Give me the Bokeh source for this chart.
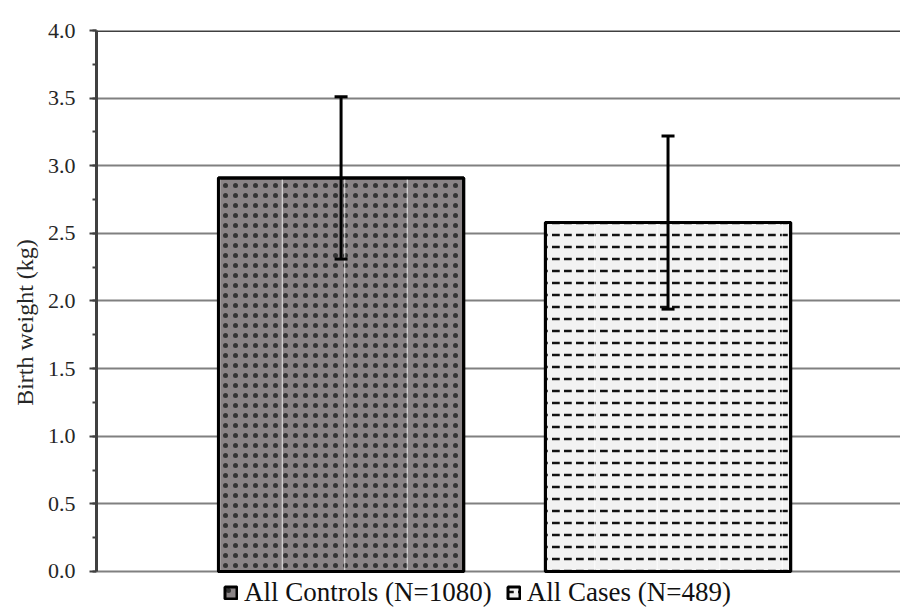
import numpy as np
from bokeh.plotting import figure
from bokeh.models import (ColumnDataSource, Range1d, SingleIntervalTicker, NumeralTickFormatter,
                          Whisker, TeeHead, Legend, LegendItem, Span)
from bokeh.embed import file_html
from bokeh.resources import INLINE

# ---- data ----
groups = ["All Controls (N=1080)", "All Cases (N=489)"]
means = [2.91, 2.58]
sds = [0.60, 0.64]
fills = ["#8a8486", "#f2f2f2"]
hatches = ["dot", "horizontal_dash"]
hatch_colors = ["#333333", "#111111"]
hatch_scales = [10, 12]
hatch_weights = [0.3, 2.5]
y_ticks_max = 4.0

xs = list(range(len(groups)))
src = ColumnDataSource(dict(
    x=xs, mean=means,
    upper=[m + s for m, s in zip(means, sds)],
    lower=[m - s for m, s in zip(means, sds)],
    fill=fills, hatch=hatches, hcol=hatch_colors, hsc=hatch_scales, hw=hatch_weights,
))

FONT = "Liberation Serif"

p = figure(width=900, height=608, output_backend="svg", toolbar_location=None,
           x_range=Range1d(-0.748, 1.711), y_range=Range1d(-0.2736, y_ticks_max),
           min_border_left=96, min_border_right=0, min_border_top=30, min_border_bottom=0)
p.outline_line_color = None
p.background_fill_color = "white"
p.border_fill_color = "white"

p.xaxis.visible = False
p.xgrid.grid_line_color = None
p.ygrid.grid_line_color = "#808080"
p.ygrid.grid_line_width = 2
p.ygrid.bounds = (0, y_ticks_max)

yax = p.yaxis[0]
yax.bounds = (0, y_ticks_max)
yax.ticker = SingleIntervalTicker(interval=0.5, num_minor_ticks=2)
yax.formatter = NumeralTickFormatter(format="0.0")
yax.axis_line_color = "#404040"
yax.axis_line_width = 3
yax.major_tick_line_color = "#404040"
yax.major_tick_line_width = 2
yax.major_tick_out = 7
yax.major_tick_in = 0
yax.minor_tick_line_color = "#404040"
yax.minor_tick_line_width = 2
yax.minor_tick_out = 4
yax.minor_tick_in = 0
yax.major_label_text_font = FONT
yax.major_label_text_font_size = "22px"
yax.major_label_text_color = "#262626"
yax.major_label_standoff = 14
yax.axis_label = "Birth weight  (kg)"
yax.axis_label_text_font = FONT
yax.axis_label_text_font_size = "24px"
yax.axis_label_text_font_style = "normal"
yax.axis_label_text_color = "#262626"
yax.axis_label_standoff = 7

# top border line
p.add_layout(Span(location=y_ticks_max, dimension="width", line_color="#404040", line_width=3))

bars = p.vbar(x="x", top="mean", bottom=0, width=0.75, source=src,
              fill_color="fill", line_color="black", line_width=3,
              hatch_pattern="hatch", hatch_color="hcol", hatch_scale="hsc", hatch_weight="hw")
# faint white vertical streaks
p.vbar(x="x", top="mean", bottom=0, width=0.75, source=src,
       fill_alpha=0, line_color="black", line_width=3,
       hatch_pattern="vertical_line", hatch_color="white", hatch_scale=62.5, hatch_weight=1,
       hatch_alpha=0.8)

p.add_layout(Whisker(base="x", upper="upper", lower="lower", source=src, level="overlay",
                     line_color="black", line_width=3,
                     upper_head=TeeHead(size=13, line_color="black", line_width=3),
                     lower_head=TeeHead(size=13, line_color="black", line_width=3)))

items = [LegendItem(label=g, renderers=[bars], index=i) for i, g in enumerate(groups)]
legend = Legend(items=items, orientation="horizontal", location=(127, 0),
                label_text_font=FONT, label_text_font_size="27px", label_text_color="#111111",
                glyph_width=15, glyph_height=15, label_standoff=6, spacing=14,
                padding=0, margin=0, border_line_color=None, background_fill_alpha=0)
p.add_layout(legend)

open("out.html", "w").write(file_html(p, INLINE))
